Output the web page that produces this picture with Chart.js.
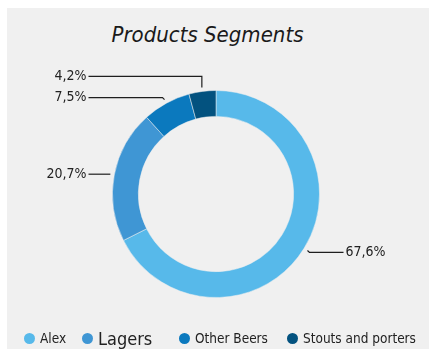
<!DOCTYPE html>
<html>
<head>
<meta charset="utf-8">
<script src="https://cdn.jsdelivr.net/npm/chart.js@4"></script>
<style>
  html, body { margin: 0; padding: 0; background: #ffffff; }
  body { width: 429px; height: 349px; position: relative; overflow: hidden;
         font-family: "Liberation Sans Narrow", "DejaVu Sans Condensed", sans-serif; color: #222; }
  #panel { position: absolute; left: 7px; top: 8px; width: 422px; height: 341px; background: #f0f0f0; }
  #title { position: absolute; left: 0; width: 401px; top: 14px; text-align: center;
           font-size: 22px; font-style: italic; line-height: 26px; color: #1a1a1a; }
  #chartBox { position: absolute; left: 0; top: 0; width: 422px; height: 341px; }
  #legend { position: absolute; left: 0; top: 318px; height: 24px; }
  .item { position: absolute; top: 0; white-space: nowrap; display: flex; align-items: center; height: 24px; }
  .dot { width: 11px; height: 11px; border-radius: 50%; margin-right: 5px; }
</style>
</head>
<body>
<div id="panel">
  <div id="title">Products Segments</div>
  <div id="chartBox"><canvas id="donut"></canvas></div>
  <div id="legend"></div>
</div>
<script>
// 产品分类占比
const categories = ['Alex', 'Lagers', 'Other Beers', 'Stouts and porters'];
const shares = [67.6, 20.7, 7.5, 4.2];
const colors = ['#57b9ea', '#3f96d4', '#0b79be', '#03527f'];

// 标签上下偏移（小扇区往上挪）
const labelShift = [2, 0, -2, -11];
// 图例位置和字号
const legendLeft = [17, 75, 172, 280];
const legendSize = [13.5, 18, 13.5, 13.5];

function fmt(v) {
  return v.toFixed(1).replace('.', ',') + '%';
}

// 画引导线和百分比标签
const leaderLabels = {
  id: 'leaderLabels',
  afterDatasetsDraw(chart) {
    const ctx = chart.ctx;
    const meta = chart.getDatasetMeta(0);
    ctx.save();
    ctx.strokeStyle = '#1e1e1e';
    ctx.lineWidth = 1.2;
    ctx.fillStyle = '#222';
    ctx.font = '14px "Liberation Sans Narrow", "DejaVu Sans Condensed", sans-serif';
    ctx.textBaseline = 'middle';
    meta.data.forEach((arc, i) => {
      const p = arc.getProps(['x', 'y', 'startAngle', 'endAngle', 'outerRadius'], true);
      const mid = (p.startAngle + p.endAngle) / 2;
      const side = Math.cos(mid) >= 0 ? 1 : -1;
      const r0 = p.outerRadius + 4;
      const x0 = p.x + Math.cos(mid) * r0;
      const y0 = p.y + Math.sin(mid) * r0;
      const ly = y0 + labelShift[i];
      const lx = p.x + side * (p.outerRadius + 24);
      ctx.beginPath();
      ctx.moveTo(x0, y0);
      if (Math.abs(labelShift[i]) > 5) {
        ctx.lineTo(x0, ly);
      } else {
        ctx.lineTo(x0 + side * 2, ly);
      }
      ctx.lineTo(lx, ly);
      ctx.stroke();
      ctx.textAlign = side > 0 ? 'left' : 'right';
      ctx.fillText(fmt(shares[i]), lx + side * 2, ly);
    });
    ctx.restore();
  }
};

new Chart(document.getElementById('donut'), {
  type: 'doughnut',
  data: {
    labels: categories,
    datasets: [{
      data: shares,
      backgroundColor: colors,
      borderColor: 'rgba(240,240,240,0.5)',
      borderWidth: 1
    }]
  },
  options: {
    responsive: true,
    maintainAspectRatio: false,
    animation: false,
    cutout: '75%',
    layout: { padding: { left: 105, right: 109, top: 82, bottom: 51 } },
    plugins: {
      legend: { display: false },
      tooltip: { enabled: false }
    }
  },
  plugins: [leaderLabels]
});

// 图例
const legend = document.getElementById('legend');
categories.forEach((name, i) => {
  const item = document.createElement('div');
  item.className = 'item';
  item.style.left = legendLeft[i] + 'px';
  item.style.fontSize = legendSize[i] + 'px';
  item.innerHTML = '<span class="dot" style="background:' + colors[i] + '"></span><span>' + name + '</span>';
  legend.appendChild(item);
});
</script>
</body>
</html>
